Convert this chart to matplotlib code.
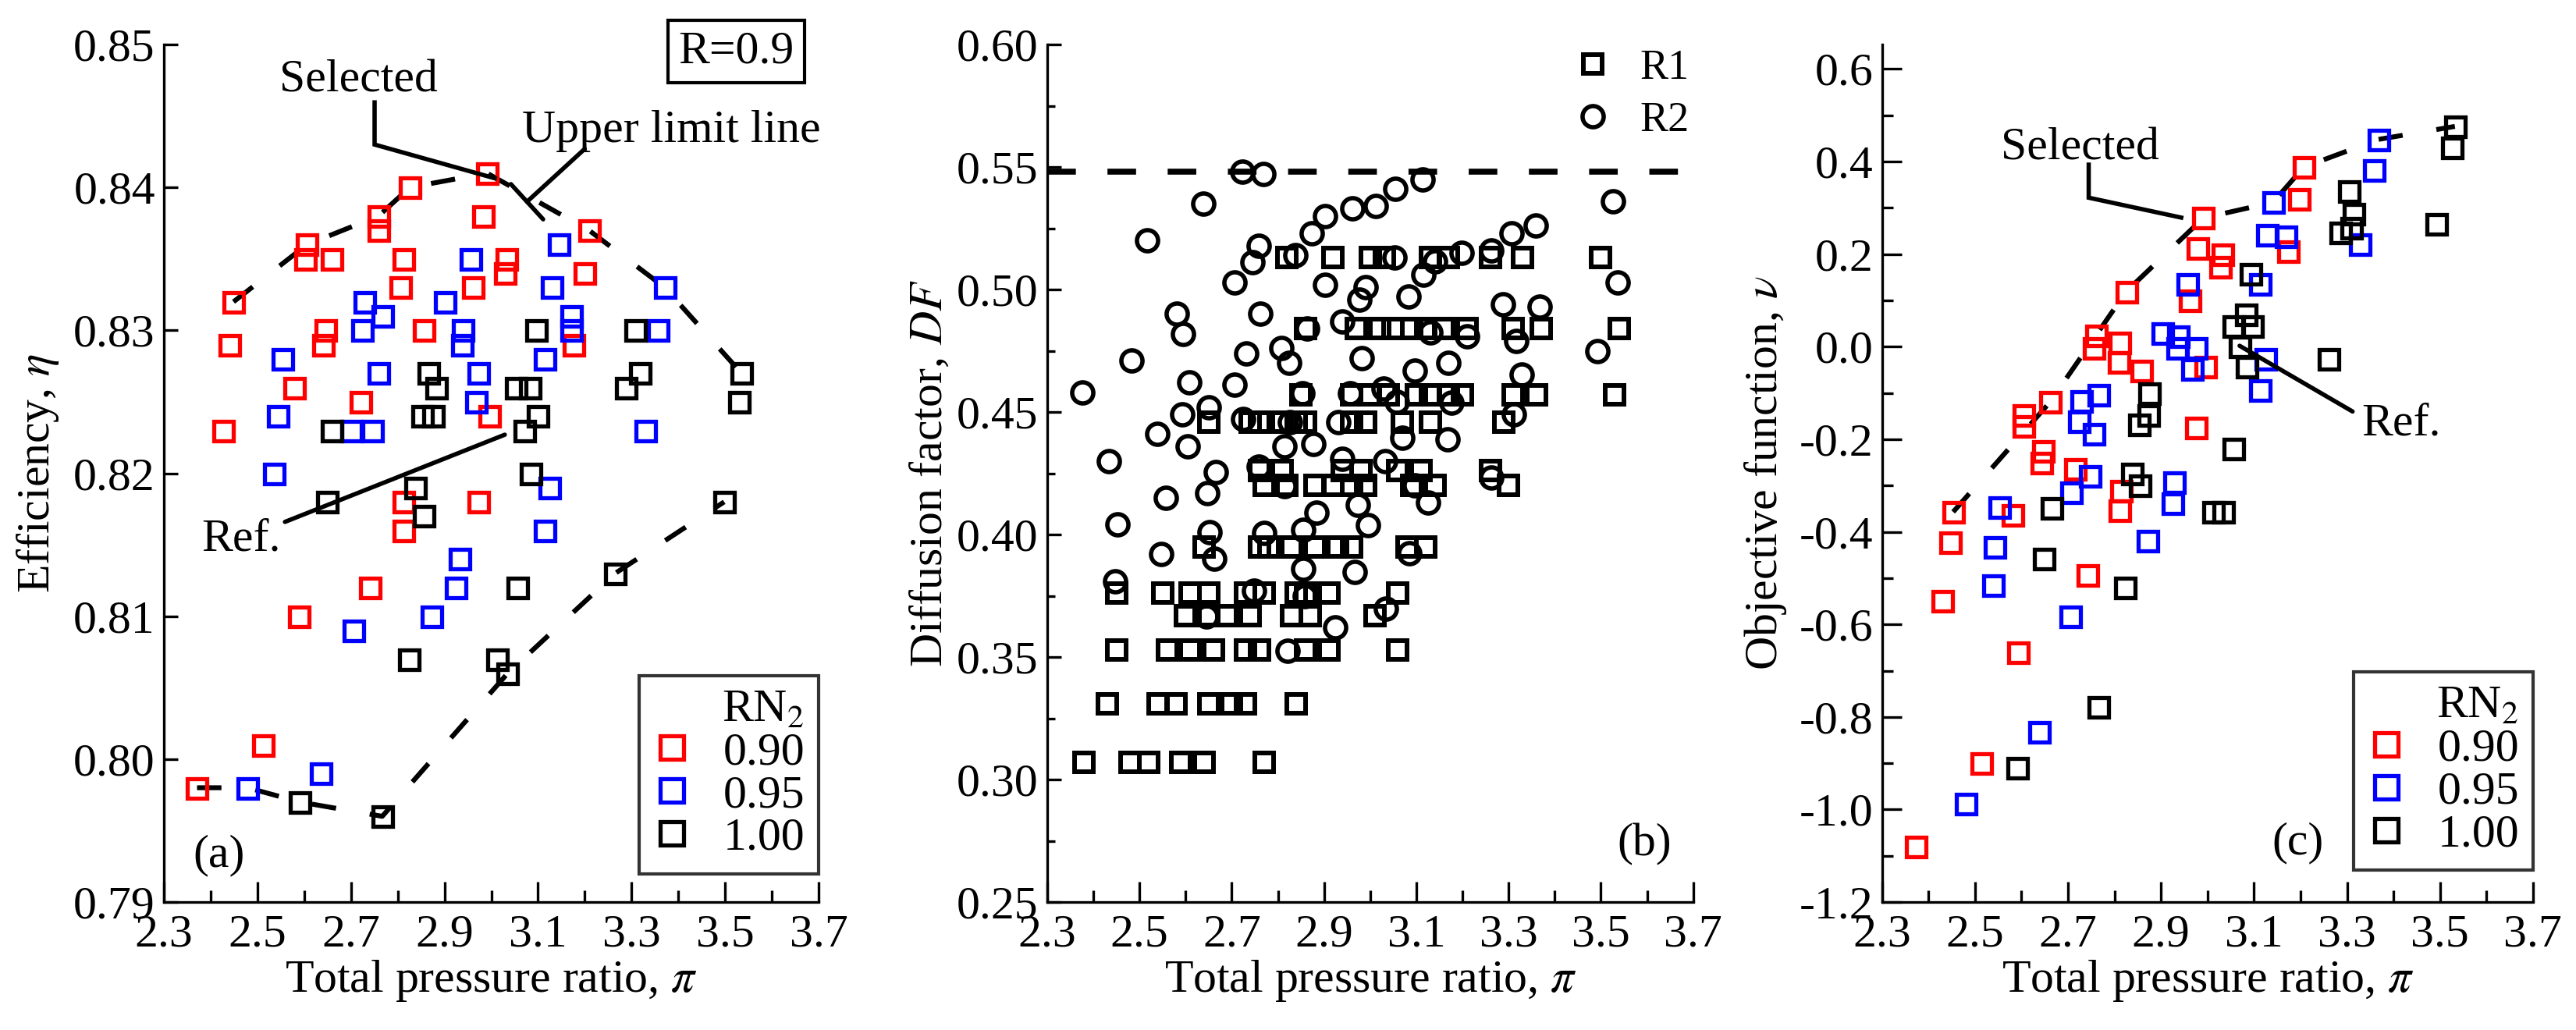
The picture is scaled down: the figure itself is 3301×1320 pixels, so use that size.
import matplotlib
matplotlib.use('Agg')
import matplotlib.pyplot as plt
from matplotlib.patches import ArrowStyle
from matplotlib.ticker import FormatStrFormatter, MultipleLocator, FixedLocator
import numpy as np

plt.rcParams['font.family'] = ['Liberation Serif', 'DejaVu Serif']
plt.rcParams['mathtext.fontset'] = 'stix'
plt.rcParams['axes.unicode_minus'] = False
FS = 43

# ---------------- data: panel (a) efficiency ----------------
a_red_pi = [2.991, 2.826, 2.982, 2.759, 2.759, 3.209, 2.606, 2.602, 2.659, 2.812, 3.032, 3.029,
            3.200, 2.806, 2.961, 2.449, 2.645, 2.641, 2.855, 3.176, 2.441, 2.579, 2.720, 2.996,
            2.427, 2.973, 2.812, 2.812, 2.741, 2.588, 2.512, 2.371]
a_red_eta = [0.841, 0.840, 0.838, 0.838, 0.837, 0.837, 0.836, 0.835, 0.835, 0.835, 0.835, 0.834,
             0.834, 0.833, 0.833, 0.832, 0.830, 0.829, 0.830, 0.829, 0.829, 0.826, 0.825, 0.824,
             0.823, 0.818, 0.818, 0.816, 0.812, 0.810, 0.801, 0.798]
a_blue_pi = [3.145, 2.956, 3.129, 3.371, 2.729, 2.900, 2.768, 3.171, 2.724, 2.939, 3.171, 3.356,
             2.938, 2.553, 3.114, 2.759, 2.973, 2.968, 2.544, 2.700, 2.745, 3.329, 2.535, 3.124,
             3.114, 2.932, 2.924, 2.873, 2.706, 2.635, 2.479]
a_blue_eta = [0.836, 0.835, 0.833, 0.833, 0.832, 0.832, 0.831, 0.831, 0.830, 0.830, 0.830, 0.830,
              0.829, 0.828, 0.828, 0.827, 0.827, 0.825, 0.824, 0.823, 0.823, 0.823, 0.820, 0.819,
              0.816, 0.814, 0.812, 0.810, 0.809, 0.799, 0.798]
a_black_pi = [3.096, 3.308, 3.535, 3.529, 2.865, 2.882, 3.053, 3.082, 3.288, 3.318, 2.853, 2.876,
              3.100, 3.071, 2.659, 3.085, 2.838, 2.649, 2.856, 3.498, 3.056, 3.265, 2.824, 3.012,
              3.035, 2.591, 2.767]
a_black_eta = [0.830, 0.830, 0.827, 0.825, 0.827, 0.826, 0.826, 0.826, 0.826, 0.827, 0.824, 0.824,
               0.824, 0.823, 0.823, 0.820, 0.819, 0.818, 0.817, 0.818, 0.812, 0.813, 0.807, 0.807,
               0.806, 0.797, 0.796]
a_upper_pi = [2.449, 2.606, 2.759, 2.826, 2.991, 3.209, 3.371, 3.535]
a_upper_eta = [0.832, 0.836, 0.838, 0.840, 0.841, 0.837, 0.833, 0.827]
a_lower_pi = [2.371, 2.479, 2.591, 2.767, 3.035, 3.265, 3.498]
a_lower_eta = [0.798, 0.798, 0.797, 0.796, 0.806, 0.813, 0.818]

# ---------------- data: panel (b) diffusion factor ----------------
r1_row_df = [0.513, 0.484, 0.457, 0.446, 0.426, 0.420, 0.395, 0.376, 0.367, 0.353, 0.331, 0.307]
r1_row_pi = [
    [2.82, 2.92, 3.00, 3.03, 3.13, 3.17, 3.26, 3.33, 3.50],
    [2.86, 2.97, 3.02, 3.05, 3.09, 3.12, 3.16, 3.21, 3.31, 3.37, 3.54],
    [2.85, 2.96, 3.00, 3.04, 3.10, 3.13, 3.17, 3.20, 3.31, 3.36, 3.53],
    [2.65, 2.74, 2.76, 2.81, 2.84, 2.86, 2.96, 2.99, 3.07, 3.13, 3.29],
    [2.76, 2.81, 2.94, 2.98, 3.06, 3.11, 3.26],
    [2.77, 2.82, 2.88, 2.92, 2.96, 2.99, 3.09, 3.14, 3.30],
    [2.64, 2.76, 2.78, 2.83, 2.88, 2.93, 2.96, 3.08, 3.12],
    [2.45, 2.55, 2.61, 2.65, 2.73, 2.77, 2.84, 2.86, 2.91, 3.06],
    [2.60, 2.65, 2.69, 2.74, 2.83, 2.87, 3.01],
    [2.45, 2.56, 2.61, 2.66, 2.73, 2.76, 2.86, 2.91, 3.06],
    [2.43, 2.54, 2.58, 2.65, 2.70, 2.73, 2.84],
    [2.38, 2.48, 2.52, 2.59, 2.64, 2.77],
]
r2_pi = [2.723, 2.769, 2.638, 2.516, 2.902, 2.961, 3.012, 2.874, 2.759, 2.745, 2.706, 2.838,
         2.902, 2.991, 2.976, 2.939, 2.581, 2.594, 2.762, 2.863, 2.483, 2.731, 2.807, 2.825,
         2.981, 2.376, 2.608, 2.706, 2.854, 2.956, 2.593, 2.651, 2.725, 2.826, 2.931, 2.538,
         2.605, 2.815, 2.877, 2.433, 2.939, 2.666, 2.759,
         3.055, 3.114, 3.526, 3.306, 3.359, 3.198, 3.262, 3.141, 3.115, 3.053, 3.083, 3.537,
         3.288, 3.368, 3.130, 3.210, 3.316, 3.493, 3.097, 3.169, 3.328, 3.029, 3.057, 3.176,
         3.311, 3.070, 3.167, 3.032, 3.262,
         2.647, 2.814, 2.557, 2.453, 2.652, 2.770, 2.547, 2.662, 2.855, 2.855, 2.448, 2.748,
         2.645, 2.858, 2.821,
         3.097, 3.125, 2.973, 2.883, 2.996, 3.085, 2.967, 3.035, 2.925]
r2_df = [0.548, 0.547, 0.535, 0.520, 0.530, 0.533, 0.534, 0.523, 0.518, 0.511, 0.503, 0.514,
         0.502, 0.501, 0.496, 0.487, 0.490, 0.482, 0.490, 0.484, 0.471, 0.474, 0.476, 0.470,
         0.472, 0.458, 0.462, 0.461, 0.4575, 0.4575, 0.449, 0.452, 0.447, 0.446, 0.446, 0.441,
         0.436, 0.436, 0.437, 0.430, 0.431, 0.4255, 0.4277,
         0.541, 0.545, 0.536, 0.523, 0.526, 0.515, 0.516, 0.5115, 0.506, 0.513, 0.497, 0.503,
         0.494, 0.493, 0.4825, 0.481, 0.479, 0.475, 0.467, 0.470, 0.4654, 0.4596, 0.4543, 0.4537,
         0.449, 0.4394, 0.4388, 0.4298, 0.4234,
         0.4168, 0.4197, 0.415, 0.404, 0.401, 0.4005, 0.392, 0.390, 0.402, 0.386, 0.381, 0.377,
         0.3665, 0.375, 0.3527,
         0.420, 0.413, 0.4122, 0.409, 0.4037, 0.3925, 0.3846, 0.3697, 0.362]
df_limit = 0.548

# ---------------- data: panel (c) objective function ----------------
c_red_pi = [3.207, 3.197, 2.991, 2.978, 3.032, 3.028, 3.173, 2.825, 2.961, 2.761, 2.755, 2.811,
            2.809, 2.857, 2.996, 2.661, 2.605, 2.605, 2.975, 2.646, 2.643, 2.715, 2.814, 2.811,
            2.453, 2.447, 2.581, 2.430, 2.742, 2.592, 2.514, 2.373]
c_red_nu = [0.388, 0.320, 0.278, 0.213, 0.200, 0.172, 0.207, 0.119, 0.100, 0.024, -0.002, 0.009,
            -0.034, -0.051, -0.044, -0.120, -0.147, -0.172, -0.175, -0.225, -0.250, -0.265, -0.311, -0.354,
            -0.357, -0.423, -0.364, -0.549, -0.494, -0.661, -0.900, -1.080]
c_blue_pi = [3.368, 3.357, 3.141, 3.128, 3.168, 3.328, 2.957, 3.112, 2.903, 2.937, 2.935, 2.975,
             3.125, 2.966, 3.112, 2.766, 2.728, 2.723, 2.755, 2.747, 2.707, 2.929, 2.924, 2.552,
             2.543, 2.871, 2.538, 2.705, 2.637, 2.480]
c_blue_nu = [0.448, 0.381, 0.312, 0.242, 0.239, 0.221, 0.136, 0.135, 0.029, 0.023, -0.002, -0.002,
             -0.027, -0.048, -0.094, -0.104, -0.117, -0.161, -0.189, -0.280, -0.315, -0.292, -0.338, -0.346,
             -0.433, -0.419, -0.516, -0.583, -0.833, -0.987]
c_black_pi = [3.532, 3.526, 3.492, 3.304, 3.314, 3.285, 3.310, 3.093, 3.082, 3.055, 3.096, 3.069,
              3.085, 3.261, 2.875, 2.873, 2.852, 3.055, 2.838, 2.854, 2.664, 3.012, 3.034, 2.648,
              2.822, 2.766, 2.591]
c_black_nu = [0.476, 0.430, 0.265, 0.336, 0.288, 0.246, 0.257, 0.158, 0.069, 0.044, 0.044, 0.001,
              -0.044, -0.027, -0.101, -0.147, -0.168, -0.221, -0.274, -0.299, -0.348, -0.357, -0.357, -0.458,
              -0.520, -0.779, -0.910]
c_front_pi = [2.453, 2.661, 2.825, 2.991, 3.141, 3.207, 3.368, 3.532]
c_front_nu = [-0.357, -0.120, 0.119, 0.278, 0.312, 0.388, 0.448, 0.476]

rn2_labels = ['0.90', '0.95', '1.00']
rn2_colors = ['#ff0000', '#0000ff', '#000000']
x_major = [2.3, 2.5, 2.7, 2.9, 3.1, 3.3, 3.5, 3.7]
x_minor = [2.4, 2.6, 2.8, 3.0, 3.2, 3.4, 3.6]

# ---------------- figure ----------------
fig = plt.figure(figsize=(33.01, 13.20), dpi=100)
bottom, height = 0.1242, 0.8326
axA = fig.add_axes([0.0636, bottom, 0.2542, height])
axB = fig.add_axes([0.4065, bottom, 0.2508, height])
axC = fig.add_axes([0.7306, bottom, 0.2527, height])

SQ = dict(marker='s', linestyle='none', markersize=18, markeredgewidth=3.8,
          markerfacecolor='none')


def style(ax, ymaj):
    for s in ['top', 'right']:
        ax.spines[s].set_visible(False)
    for s in ['left', 'bottom']:
        ax.spines[s].set_linewidth(2.4)
    ax.tick_params(which='both', direction='in', width=2.4, labelsize=FS)
    ax.tick_params(axis='x', which='major', length=19, pad=11)
    ax.tick_params(axis='x', which='minor', length=11)
    ax.tick_params(axis='y', which='major', length=ymaj, pad=8)
    ax.tick_params(axis='y', which='minor', length=ymaj * 0.55)
    ax.set_xlim(2.3, 3.7)
    ax.xaxis.set_major_locator(FixedLocator(x_major))
    ax.xaxis.set_minor_locator(FixedLocator(x_minor))
    ax.xaxis.set_major_formatter(FormatStrFormatter('%.1f'))
    ax.set_xlabel('Total pressure ratio, $\\pi$', fontsize=FS, labelpad=2)


DASH = (5, 7)

# ---- panel (a)
style(axA, 13)
axA.set_ylim(0.79, 0.85)
axA.yaxis.set_major_locator(MultipleLocator(0.01))
axA.yaxis.set_major_formatter(FormatStrFormatter('%.2f'))
axA.plot(a_upper_pi, a_upper_eta, color='k', lw=4.5, dashes=DASH, zorder=1)
axA.plot(a_lower_pi, a_lower_eta, color='k', lw=4.5, dashes=DASH, zorder=1)
hA = []
for xs, ys, c in [(a_red_pi, a_red_eta, rn2_colors[0]),
                  (a_blue_pi, a_blue_eta, rn2_colors[1]),
                  (a_black_pi, a_black_eta, rn2_colors[2])]:
    h, = axA.plot(xs, ys, color=c, markeredgecolor=c, zorder=3, clip_on=False, **SQ)
    hA.append(h)
axA.set_ylabel('Efficiency, $\\eta$', fontsize=FS)
axA.yaxis.set_label_coords(-0.157, 0.5)

axA.text(2.717, 0.8467, 'Selected', fontsize=FS, ha='center', va='baseline')
axA.plot([2.7506, 2.7506, 3.012], [0.8461, 0.8430, 0.8406], color='k', lw=4,
         solid_capstyle='butt', solid_joinstyle='miter', zorder=4)
axA.text(3.385, 0.8432, 'Upper limit line', fontsize=FS, ha='center', va='baseline',
         clip_on=False)
axA.annotate('', xy=(3.0765, 0.8390), xytext=(3.200, 0.8427),
             arrowprops=dict(arrowstyle=ArrowStyle('-[', widthB=1.0, lengthB=0),
                             lw=4, color='k', shrinkA=0, shrinkB=0, mutation_scale=22))
axA.text(2.465, 0.8146, 'Ref.', fontsize=FS, ha='center', va='baseline')
axA.annotate('', xy=(3.029, 0.8227), xytext=(2.559, 0.8166),
             arrowprops=dict(arrowstyle='-', lw=4, color='k', shrinkA=0, shrinkB=0))
axA.text(2.418, 0.7925, '(a)', fontsize=FS, ha='center', va='baseline')
axA.text(3.524, 0.8495, 'R=0.9', fontsize=FS, ha='center', va='center', clip_on=False,
         bbox=dict(boxstyle='square,pad=0.22', fc='white', ec='k', lw=3))

legA = axA.legend(hA, rn2_labels, title='RN$_2$', loc='lower right',
                  bbox_to_anchor=(1.0, 0.033), frameon=True, fancybox=False,
                  edgecolor='k', fontsize=FS, title_fontsize=FS, alignment='right',
                  markerscale=1.2, labelspacing=0.0, handlelength=0.8,
                  handletextpad=0.7, borderpad=0.3, borderaxespad=0)
legA.get_frame().set_linewidth(3)

# ---- panel (b)
style(axB, 13)
axB.set_ylim(0.25, 0.60)
axB.yaxis.set_major_locator(MultipleLocator(0.05))
axB.yaxis.set_minor_locator(MultipleLocator(0.025))
axB.yaxis.set_major_formatter(FormatStrFormatter('%.2f'))
axB.axhline(df_limit, color='k', lw=5.5, dashes=(4.8, 5.3), zorder=1)
r1_pi = [p for row in r1_row_pi for p in row]
r1_df = [d for d, row in zip(r1_row_df, r1_row_pi) for _ in row]
h1, = axB.plot(r1_pi, r1_df, marker='s', linestyle='none', markersize=17.5,
               markeredgewidth=4.3, markerfacecolor='none', color='k', zorder=3)
h2, = axB.plot(r2_pi, r2_df, marker='o', linestyle='none', markersize=19.5,
               markeredgewidth=4.0, markerfacecolor='none', color='k', zorder=3)
axB.set_ylabel('Diffusion factor, $DF$', fontsize=FS)
axB.yaxis.set_label_coords(-0.147, 0.5)
axB.text(3.595, 0.269, '(b)', fontsize=FS, ha='center', va='baseline')
axB.legend([h1, h2], ['R1', 'R2'], loc='upper right', bbox_to_anchor=(1.0, 1.0),
           frameon=False, fontsize=39, labelspacing=0.3, handlelength=0.8,
           handletextpad=0.7, borderpad=0.0, borderaxespad=0.1)

# ---- panel (c)
style(axC, 18)
axC.set_ylim(-1.2, 0.653)
axC.yaxis.set_major_locator(MultipleLocator(0.2))
axC.yaxis.set_minor_locator(MultipleLocator(0.1))
axC.yaxis.set_major_formatter(FormatStrFormatter('%.1f'))
axC.plot(c_front_pi, c_front_nu, color='k', lw=4.5, dashes=DASH, zorder=1)
hC = []
for xs, ys, c in [(c_red_pi, c_red_nu, rn2_colors[0]),
                  (c_blue_pi, c_blue_nu, rn2_colors[1]),
                  (c_black_pi, c_black_nu, rn2_colors[2])]:
    h, = axC.plot(xs, ys, color=c, markeredgecolor=c, zorder=3, **SQ)
    hC.append(h)
axC.set_ylabel('Objective function, $\\nu$', fontsize=FS)
axC.yaxis.set_label_coords(-0.143, 0.5)
axC.text(2.725, 0.405, 'Selected', fontsize=FS, ha='center', va='baseline')
axC.plot([2.7445, 2.7445, 2.948], [0.398, 0.322, 0.278], color='k', lw=4,
         solid_capstyle='butt', solid_joinstyle='miter', zorder=4)
axC.text(3.416, -0.191, 'Ref.', fontsize=FS, ha='center', va='baseline')
axC.annotate('', xy=(3.069, 0.002), xytext=(3.312, -0.140),
             arrowprops=dict(arrowstyle='-', lw=4, color='k', shrinkA=0, shrinkB=0))
axC.text(3.194, -1.096, '(c)', fontsize=FS, ha='center', va='baseline')
legC = axC.legend(hC, rn2_labels, title='RN$_2$', loc='lower right',
                  bbox_to_anchor=(1.0, 0.037), frameon=True, fancybox=False,
                  edgecolor='k', fontsize=FS, title_fontsize=FS, alignment='right',
                  markerscale=1.2, labelspacing=0.0, handlelength=0.8,
                  handletextpad=0.7, borderpad=0.3, borderaxespad=0)
legC.get_frame().set_linewidth(3)

fig.savefig('out.png', dpi=100)
